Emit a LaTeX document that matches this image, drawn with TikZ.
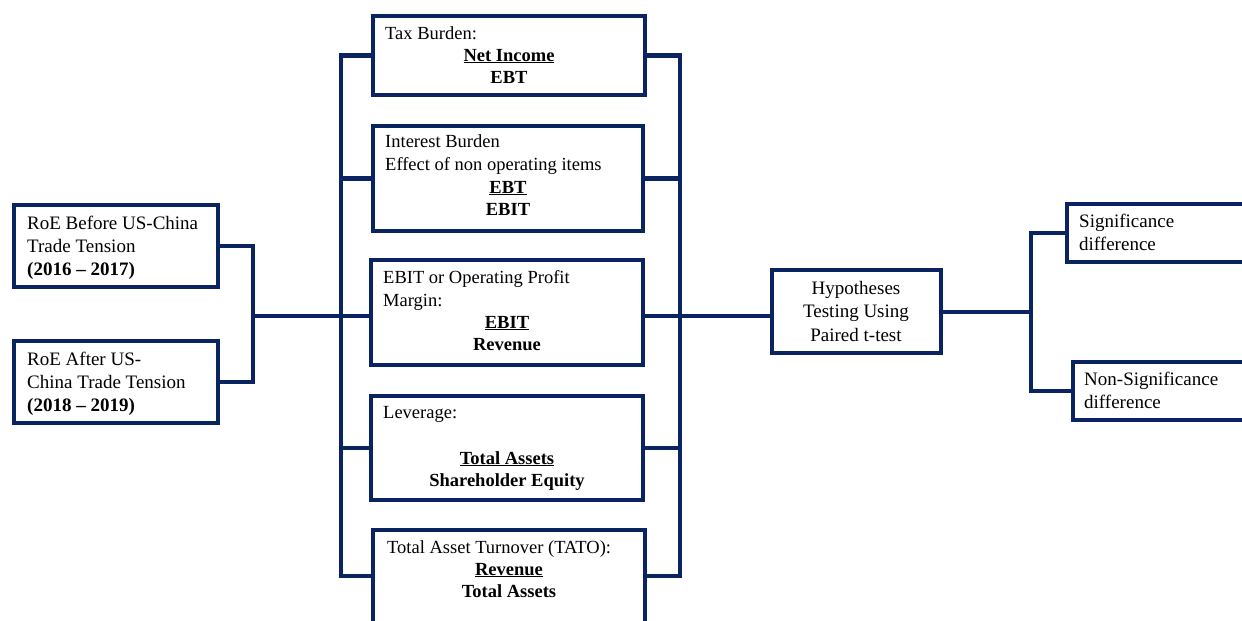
\documentclass[tikz,border=0pt]{standalone}
\usepackage{fontspec}
\setmainfont{Liberation Serif}
\definecolor{navy}{RGB}{10,36,98}
\begin{document}
\begin{tikzpicture}[x=1pt,y=-1pt,
  box/.style={draw=navy, line width=4.6pt, rectangle, inner sep=0pt},
  link/.style={draw=navy, line width=4.6pt},
  % multi-line texts are placed by the baseline of their last line
  side/.style={inner sep=0pt, align=left, anchor=base west,
    font=\fontsize{19}{23}\selectfont},
  lbl/.style={inner sep=0pt, align=left, anchor=base west,
    font=\fontsize{18.5}{22.5}\selectfont},
  ratio/.style={inner sep=0pt, align=center, anchor=base,
    font=\fontsize{18.5}{22}\selectfont\bfseries},
  mid/.style={inner sep=0pt, align=center, anchor=base,
    font=\fontsize{19}{23.5}\selectfont}]
\useasboundingbox (0,0) rectangle (1242,621);
\clip (0,0) rectangle (1242,621);

% boxes
\node[box, minimum width=204, minimum height=82] (before) at (116,246) {};
\node[box, minimum width=204, minimum height=82] (after)  at (116,382) {};
\node[box, minimum width=272, minimum height=79]  (tax)  at (509,55.5) {};
\node[box, minimum width=270, minimum height=105] (intb) at (508,178.5) {};
\node[box, minimum width=272, minimum height=105] (ebit) at (507,312.5) {};
\node[box, minimum width=272, minimum height=104] (lev)  at (507,448) {};
\node[box, minimum width=272, minimum height=120] (tato) at (509,590) {};
\node[box, minimum width=169, minimum height=83]  (hyp)  at (856.5,311.5) {};
\node[box, minimum width=200, minimum height=58]  (sig)  at (1167,233) {};
\node[box, minimum width=196, minimum height=58]  (nsig) at (1171,391) {};

% junction points
\coordinate (jL)  at (253,316);
\coordinate (busL) at (341,576);
\coordinate (busR) at (680,576);
\coordinate (jR)  at (680,316);
\coordinate (jH)  at (1031,312);

% RoE periods joined into the ratio column
\draw[link] (before.east) -| (jL) |- (after.east);
\draw[link] (jL) -- (ebit.west |- jL);

% left bus
\draw[link] (tax.west) -| (busL) -- (tato.west |- busL);
\draw[link] (intb.west) -- (intb.west -| busL);
\draw[link] (lev.west) -- (lev.west -| busL);

% right bus
\draw[link] (tax.east) -| (busR) -- (tato.east |- busR);
\draw[link] (intb.east) -- (intb.east -| busR);
\draw[link] (lev.east) -- (lev.east -| busR);
\draw[link] (ebit.east |- jR) -- (hyp.west |- jR);

% test outcomes
\draw[link] (hyp.east |- jH) -- (jH);
\draw[link] (sig.west) -| (jH) |- (nsig.west);

% texts
\node[side] (tbefore) at (27,275) {RoE Before US-China\\Trade Tension\\\textbf{(2016 – 2017)}};
\node[side] (tafter) at (27,411) {RoE After US-\\China Trade Tension\\\textbf{(2018 – 2019)}};

\node[lbl] (ltax) at (385,39) {Tax Burden:};
\node[ratio] (rtax) at (509,83) {\underline{Net Income}\\EBT};

\node[lbl] (lint) at (385,170) {Interest Burden\\Effect of non operating items};
\node[ratio] (rint) at (508,215) {\underline{EBT}\\EBIT};

\node[lbl] (lebit) at (383,306) {EBIT or Operating Profit\\Margin:};
\node[ratio] (rebit) at (507,350) {\underline{EBIT}\\Revenue};

\node[lbl] (llev) at (383,418) {Leverage:};
\node[ratio] (rlev) at (507,486) {\underline{Total Assets}\\Shareholder Equity};

\node[lbl] (ltato) at (387,553) {Total Asset Turnover (TATO):};
\node[ratio] (rtato) at (509,597) {\underline{Revenue}\\Total Assets};

\node[mid] (thyp) at (856,341) {Hypotheses\\Testing Using\\Paired t-test};

\node[side] (tsig) at (1079,250) {Significance\\difference};
\node[side] (tnsig) at (1084,408) {Non-Significance\\difference};
\end{tikzpicture}
\end{document}
